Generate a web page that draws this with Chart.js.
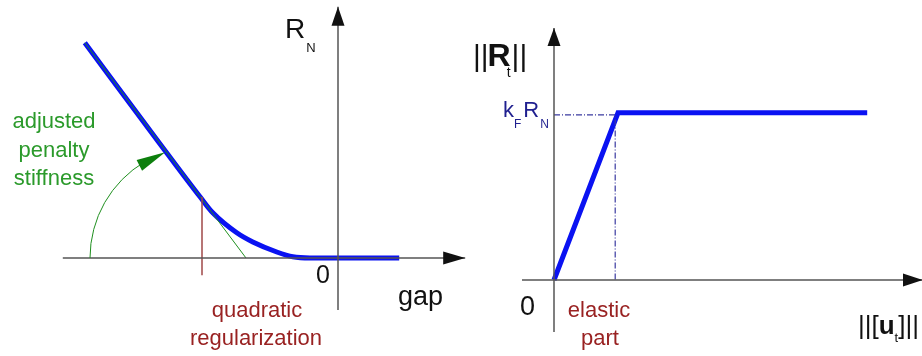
<!DOCTYPE html>
<html>
<head>
<meta charset="utf-8">
<script src="https://cdn.jsdelivr.net/npm/chart.js@4.4.1/dist/chart.umd.min.js"></script>
<style>
  html, body { margin:0; padding:0; background:#fff; }
  #wrap { position:relative; width:922px; height:356px; overflow:hidden; }
  #normalChart { position:absolute; left:0; top:0; }
  #frictionChart { position:absolute; left:470px; top:0; }
</style>
</head>
<body>
<div id="wrap">
  <canvas id="normalChart" width="470" height="356"></canvas>
  <canvas id="frictionChart" width="452" height="356"></canvas>
</div>
<script>
// ---- left panel: normal reaction R_N vs gap (units = 40px) ----
const penaltyGap   = [-6.33, -4.5, -3.45, -3.13, -2.53, -2.13, -1.53, -1.13, -0.7, 1.53];
const penaltyForce = [ 5.38,  2.92, 1.53,  1.13,  0.63,  0.40,  0.15,  0.03,  0.0, 0.0];
const tangentGap   = [-6.33, -2.3];
const tangentForce = [ 5.38,  0.0];
const regGap       = [-3.4, -3.4];
const regForce     = [ 1.53, -0.43];
const gapAxisX     = [-6.88, 3.18];
const gapAxisY     = [-1.3, 6.28];

// ---- right panel: tangential reaction ||R_t|| vs ||[u_t]|| ----
const slipU        = [0, 1.6, 7.83];
const slipForce    = [0, 4.18, 4.18];
const limitU       = [0, 1.53, 1.53];
const limitForce   = [4.13, 4.13, 0];
const slipAxisX    = [-0.8, 9.2];
const slipAxisY    = [-1.3, 6.3];

const FONT = '"Liberation Sans", Arial, sans-serif';
const BLUE = '#0a12f2', AXIS = '#555', GREEN = '#2b9a2b', DKGREEN = '#0d7f0d', DKRED = '#992222', NAVY = '#1f1f8f';

const pts = (xs, ys) => xs.map((x, i) => ({ x, y: ys[i] }));

function line(data, color, width, extra) {
  return Object.assign({ data, borderColor: color, borderWidth: width, showLine: true,
    pointRadius: 0, fill: false, borderCapStyle: 'butt', borderJoinStyle: 'miter' }, extra || {});
}

function arrowHead(ctx, tx, ty, dx, dy, len, half, color) {
  const n = Math.hypot(dx, dy); dx /= n; dy /= n;
  const bx = tx - dx * len, by = ty - dy * len;
  ctx.fillStyle = color;
  ctx.beginPath();
  ctx.moveTo(tx, ty);
  ctx.lineTo(bx - dy * half, by + dx * half);
  ctx.lineTo(bx + dy * half, by - dx * half);
  ctx.closePath();
  ctx.fill();
}

function put(ctx, o, dx, dy, text, font, color, align) {
  ctx.font = font; ctx.fillStyle = color;
  ctx.textAlign = align || 'left'; ctx.textBaseline = 'alphabetic';
  ctx.fillText(text, o.x + dx, o.y + dy);
}

// sequential text runs (for subscripts and mixed weights)
function runs(ctx, x, y, list) {
  ctx.textAlign = 'left'; ctx.textBaseline = 'alphabetic';
  list.forEach(r => {
    ctx.font = r.font; ctx.fillStyle = r.color || '#111';
    ctx.fillText(r.t, x + (r.dx || 0), y + (r.dy || 0));
    x += ctx.measureText(r.t).width + (r.dx || 0);
  });
}

function axes(xmin, xmax, ymin, ymax) {
  return {
    x: { type: 'linear', display: false, min: xmin, max: xmax },
    y: { type: 'linear', display: false, min: ymin, max: ymax }
  };
}

const common = {
  responsive: false, animation: false,
  layout: { padding: 0 },
  plugins: { legend: { display: false }, tooltip: { enabled: false } }
};

// left chart
new Chart(document.getElementById('normalChart'), {
  type: 'scatter',
  data: { datasets: [
    line(pts(gapAxisX, [0, 0]), AXIS, 1.5),
    line(pts([0, 0], gapAxisY), AXIS, 1.5),
    line(pts(regGap, regForce), '#a04848', 1.5),
    line(pts(tangentGap, tangentForce), '#1f8f1f', 1),
    line(pts(penaltyGap, penaltyForce), BLUE, 5, { cubicInterpolationMode: 'monotone' })
  ]},
  options: Object.assign({}, common, { scales: axes(-8.45, 3.3, -2.45, 6.45) }),
  plugins: [{
    id: 'normalDecor',
    afterDatasetsDraw(chart) {
      const ctx = chart.ctx, sx = chart.scales.x, sy = chart.scales.y;
      const o = { x: sx.getPixelForValue(0), y: sy.getPixelForValue(0) };
      ctx.save();
      arrowHead(ctx, sx.getPixelForValue(gapAxisX[1]), o.y, 1, 0, 22, 6.5, '#111');
      arrowHead(ctx, o.x, sy.getPixelForValue(gapAxisY[1]), 0, -1, 19, 6.5, '#111');

      // stiffness arc centred where the regularization starts
      const cx = sx.getPixelForValue(regGap[0]), cy = o.y;
      const r = cx - sx.getPixelForValue(-6.2);
      const a0 = Math.PI, a1 = Math.PI + 1.236;
      ctx.strokeStyle = '#1f8f1f'; ctx.lineWidth = 1;
      ctx.beginPath(); ctx.arc(cx, cy, r, a0, a1 - 0.2, false); ctx.stroke();
      const tx = cx + r * Math.cos(a1), ty = cy + r * Math.sin(a1);
      const bx = cx + r * Math.cos(a1 - 0.27), by = cy + r * Math.sin(a1 - 0.27);
      arrowHead(ctx, tx, ty, tx - bx, ty - by, 29, 6, DKGREEN);

      runs(ctx, o.x - 53, o.y - 220, [
        { t: 'R', font: '28px ' + FONT },
        { t: 'N', font: '13px ' + FONT, dy: 14, dx: 1 }
      ]);
      put(ctx, o, -22, 25, '0', '25px ' + FONT, '#111');
      put(ctx, o, 60, 47, 'gap', '27px ' + FONT, '#111');

      put(ctx, o, -284, -130, 'adjusted', '22px ' + FONT, GREEN, 'center');
      put(ctx, o, -284, -101, 'penalty', '22px ' + FONT, GREEN, 'center');
      put(ctx, o, -284, -73, 'stiffness', '22px ' + FONT, GREEN, 'center');

      put(ctx, o, -81, 59, 'quadratic', '22px ' + FONT, DKRED, 'center');
      put(ctx, o, -82, 87, 'regularization', '22px ' + FONT, DKRED, 'center');
      ctx.restore();
    }
  }]
});

// right chart
new Chart(document.getElementById('frictionChart'), {
  type: 'scatter',
  data: { datasets: [
    line(pts(slipAxisX, [0, 0]), AXIS, 1.5),
    line(pts([0, 0], slipAxisY), AXIS, 1.5),
    line(pts(limitU, limitForce), '#3a3aa0', 1.2, { borderDash: [6, 2, 1, 2] }),
    line(pts(slipU, slipForce), BLUE, 5)
  ]},
  options: Object.assign({}, common, { scales: axes(-2.1, 9.2, -1.9, 7) }),
  plugins: [{
    id: 'frictionDecor',
    afterDatasetsDraw(chart) {
      const ctx = chart.ctx, sx = chart.scales.x, sy = chart.scales.y;
      const o = { x: sx.getPixelForValue(0), y: sy.getPixelForValue(0) };
      ctx.save();
      arrowHead(ctx, sx.getPixelForValue(slipAxisX[1]) + 1, o.y, 1, 0, 20, 6.5, '#111');
      arrowHead(ctx, o.x, sy.getPixelForValue(slipAxisY[1]), 0, -1, 18, 6.5, '#111');

      runs(ctx, o.x - 81, o.y - 214, [
        { t: '||', font: '30px ' + FONT },
        { t: 'R', font: 'bold 32px ' + FONT, dx: -1 },
        { t: 't', font: '14px ' + FONT, dy: 11, dx: -4 },
        { t: '||', font: '30px ' + FONT, dx: 1 }
      ]);
      runs(ctx, o.x - 51, o.y - 163, [
        { t: 'k', font: '22px ' + FONT, color: NAVY },
        { t: 'F', font: '12px ' + FONT, color: NAVY, dy: 11 },
        { t: 'R', font: '22px ' + FONT, color: NAVY, dx: 2 },
        { t: 'N', font: '12px ' + FONT, color: NAVY, dy: 11, dx: 1 }
      ]);
      put(ctx, o, -34, 35, '0', '27px ' + FONT, '#111');
      put(ctx, o, 45, 37, 'elastic', '22px ' + FONT, DKRED, 'center');
      put(ctx, o, 46, 65, 'part', '22px ' + FONT, DKRED, 'center');

      runs(ctx, o.x + 304, o.y + 54, [
        { t: '||[', font: '26px ' + FONT },
        { t: 'u', font: 'bold 26px ' + FONT },
        { t: 't', font: '13px ' + FONT, dy: 8 },
        { t: ']||', font: '26px ' + FONT }
      ]);
      ctx.restore();
    }
  }]
});
</script>
</body>
</html>
